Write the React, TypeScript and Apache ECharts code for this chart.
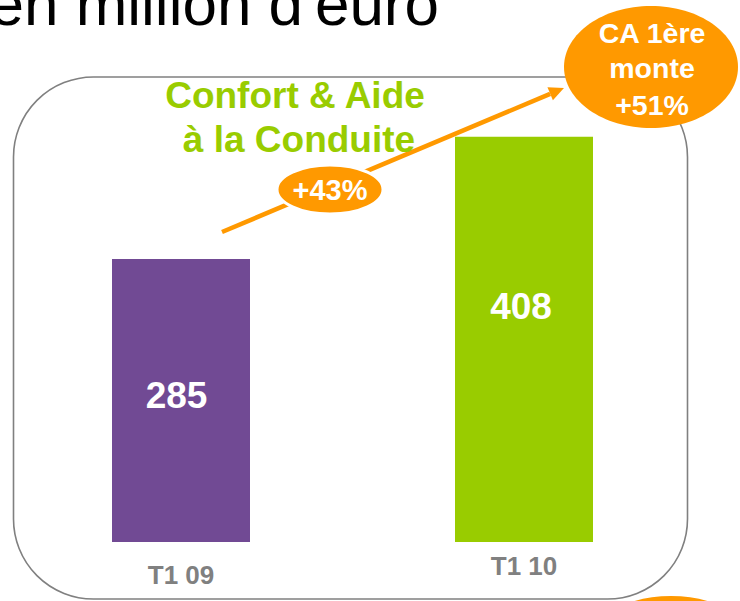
import React, { useEffect, useRef } from "react";
import * as echarts from "echarts";

const categories = ["T1 09", "T1 10"];
const values = [285, 408];
const barColors = ["#714A94", "#99CC00"];
const titleText = "en million d'euro";
const segmentLines = ["Confort & Aide", "à la Conduite"];
const growthLabel = "+43%";
const calloutLines = ["CA 1ère", "monte", "+51%"];

const FONT = "Arial, 'Liberation Sans', Helvetica, sans-serif";
const ORANGE = "#FF9900";
const GREEN = "#99CC00";
const GRAY = "#808080";
const labelY = [137, 170];
const labelDX = [-4.5, -3];

export default function App() {
  const ref = useRef<HTMLDivElement>(null);

  useEffect(() => {
    if (!ref.current) return;
    const chart = echarts.init(ref.current, null, { renderer: "svg" });

    const tip = [564, 88];
    const start = [222, 232];
    const dx = tip[0] - start[0];
    const dy = tip[1] - start[1];
    const len = Math.sqrt(dx * dx + dy * dy);
    const ux = dx / len;
    const uy = dy / len;
    const base = [tip[0] - ux * 15, tip[1] - uy * 15];
    const px = -uy;
    const py = ux;

    chart.setOption({
      animation: false,
      grid: { left: 9.5, width: 686, bottom: 59, top: 95, containLabel: false },
      xAxis: {
        type: "category",
        data: categories,
        axisLine: { show: false },
        axisTick: { show: false },
        axisLabel: {
          margin: 11,
          formatter: (v: string, i: number) => (i === 0 ? `{a|${v}}` : `{b|${v}}`),
          rich: {
            a: { fontSize: 26, fontWeight: "bold", color: GRAY, fontFamily: FONT, padding: [9, 0, 0, 0] },
            b: { fontSize: 26, fontWeight: "bold", color: GRAY, fontFamily: FONT },
          },
        },
      },
      yAxis: {
        type: "value",
        min: 0,
        max: 450,
        show: false,
        splitLine: { show: false },
      },
      series: [
        {
          type: "bar",
          barWidth: 138,
          z: 3,
          data: values.map((v, i) => ({
            value: v,
            itemStyle: { color: barColors[i] },
            label: {
              show: true,
              position: ["50%", labelY[i]],
              offset: [labelDX[i], 0],
              align: "center",
              verticalAlign: "middle",
              color: "#fff",
              fontSize: 37,
              fontWeight: "bold",
              fontFamily: FONT,
            },
          })),
        },
      ],
      graphic: [
        {
          type: "text",
          x: 439,
          y: 3.5,
          style: {
            text: titleText,
            fill: "#000",
            font: `62px ${FONT}`,
            textAlign: "right",
            textVerticalAlign: "middle",
          },
        },
        {
          type: "rect",
          z: 0,
          shape: { x: 13.5, y: 77, width: 674, height: 522, r: 80 },
          style: { fill: "none", stroke: GRAY, lineWidth: 1.6 },
        },
        {
          type: "line",
          z: 5,
          shape: { x1: start[0], y1: start[1], x2: base[0], y2: base[1] },
          style: { stroke: ORANGE, lineWidth: 4.5 },
        },
        {
          type: "polygon",
          z: 5,
          shape: {
            points: [
              tip,
              [base[0] + px * 7, base[1] + py * 7],
              [base[0] - px * 7, base[1] - py * 7],
            ],
          },
          style: { fill: ORANGE },
        },
        {
          type: "text",
          z: 6,
          x: 295,
          y: 95.5,
          style: {
            text: segmentLines[0],
            fill: GREEN,
            font: `bold 37px ${FONT}`,
            textAlign: "center",
            textVerticalAlign: "middle",
          },
        },
        {
          type: "text",
          z: 6,
          x: 299,
          y: 139.5,
          style: {
            text: segmentLines[1],
            fill: GREEN,
            font: `bold 37px ${FONT}`,
            textAlign: "center",
            textVerticalAlign: "middle",
          },
        },
        {
          type: "ellipse",
          z: 7,
          shape: { cx: 330, cy: 189.5, rx: 53, ry: 24.5 },
          style: { fill: ORANGE, stroke: "#fff", lineWidth: 3 },
        },
        {
          type: "text",
          z: 8,
          x: 330,
          y: 190,
          style: {
            text: growthLabel,
            fill: "#fff",
            font: `bold 29px ${FONT}`,
            textAlign: "center",
            textVerticalAlign: "middle",
          },
        },
        {
          type: "ellipse",
          z: 7,
          shape: { cx: 651, cy: 67, rx: 87, ry: 61 },
          style: { fill: ORANGE },
        },
        ...calloutLines.map((t, i) => ({
          type: "text",
          z: 8,
          x: 652,
          y: [33, 68, 105][i],
          style: {
            text: t,
            fill: "#fff",
            font: `bold 28.5px ${FONT}`,
            textAlign: "center",
            textVerticalAlign: "middle",
          },
        })),
        {
          type: "ellipse",
          z: 7,
          shape: { cx: 671, cy: 636, rx: 75, ry: 40 },
          style: { fill: ORANGE },
        },
      ],
    });

    return () => chart.dispose();
  }, []);

  return (
    <div
      ref={ref}
      style={{ position: "absolute", left: 0, top: 0, width: 740, height: 601, background: "#fff" }}
    />
  );
}
